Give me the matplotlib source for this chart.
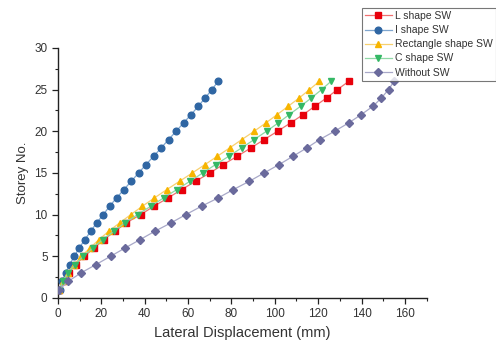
import matplotlib
matplotlib.use("Agg")
import matplotlib.pyplot as plt
from matplotlib.ticker import MultipleLocator

plt.rcParams['font.family'] = ['Liberation Sans', 'DejaVu Sans']

storeys = list(range(1, 27))
l_shape = [0.6, 2.3, 4.9, 8.1, 12.1, 16.8, 21.1, 26.4, 31.4, 38.2, 44.2, 50.8, 57.0,
           63.5, 70.1, 76.2, 82.7, 89.0, 95.1, 101.3, 107.3, 113.1, 118.5, 123.9, 128.9, 134.2]
i_shape = [0.8, 2.0, 3.5, 5.4, 7.5, 9.8, 12.4, 15.1, 17.8, 20.9, 23.8, 27.0, 30.4,
           33.8, 37.2, 40.6, 44.1, 47.6, 51.0, 54.5, 57.9, 61.4, 64.7, 67.9, 71.0, 73.9]
rect_shape = [0.6, 2.2, 4.5, 7.3, 10.8, 14.8, 18.9, 23.4, 28.4, 33.6, 38.9, 44.5, 50.2,
              56.1, 62.0, 67.8, 73.5, 79.2, 84.8, 90.5, 95.9, 101.1, 106.2, 111.3, 116.0, 120.6]
c_shape = [0.6, 2.2, 4.7, 7.8, 11.7, 16.0, 20.6, 25.8, 30.8, 36.7, 42.8, 48.7, 54.8,
           60.9, 66.8, 72.7, 78.8, 84.7, 90.5, 96.2, 101.6, 106.7, 111.9, 116.9, 121.6, 126.0]
without_sw = [0.6, 4.8, 10.6, 17.5, 24.3, 31.0, 37.9, 44.7, 52.1, 59.0, 66.2, 73.9, 80.9,
              88.3, 95.1, 102.0, 108.4, 114.8, 120.7, 127.6, 134.1, 139.9, 145.3, 149.2, 152.5, 155.0]

series = [
    ("L shape SW", l_shape, 's', '#e8000b', '#f07070'),
    ("I shape SW", i_shape, 'o', '#2f66a3', '#7fa6cf'),
    ("Rectangle shape SW", rect_shape, '^', '#f7b500', '#f7d070'),
    ("C shape SW", c_shape, 'v', '#34b865', '#8fd8a6'),
    ("Without SW", without_sw, 'D', '#6a6a9c', '#a8a8c8'),
]

fig = plt.figure(figsize=(4.96, 3.42), dpi=100)
ax = fig.add_axes([0.117, 0.129, 0.743, 0.731])

handles = []
for name, xs, mk, mc, lc in series:
    ms = 4.8 if mk != 'D' else 4.2
    h, = ax.plot(xs, storeys, color=lc, lw=0.9, marker=mk, markersize=ms,
                 markerfacecolor=mc, markeredgecolor=mc, label=name, zorder=3)
    handles.append(h)

ax.set_xlim(0, 170)
ax.set_ylim(0, 30)
ax.xaxis.set_major_locator(MultipleLocator(20))
ax.xaxis.set_minor_locator(MultipleLocator(10))
ax.yaxis.set_major_locator(MultipleLocator(5))
ax.yaxis.set_minor_locator(MultipleLocator(2.5))
for s in ['top', 'right']:
    ax.spines[s].set_visible(False)
for s in ['left', 'bottom']:
    ax.spines[s].set_linewidth(1.0)
    ax.spines[s].set_color('#222222')
ax.tick_params(which='major', direction='out', length=4, width=0.9,
               labelsize=8.5, labelcolor='#333333', color='#222222')
ax.tick_params(which='minor', direction='out', length=2.5, width=0.8, color='#222222')

ax.set_xlabel('Lateral Displacement (mm)', fontsize=10.5, color='#333333', labelpad=4)
ax.set_ylabel('Storey No.', fontsize=9.5, color='#333333', labelpad=4)

leg = fig.legend(handles=handles, loc='upper left', bbox_to_anchor=(0.729, 0.977),
                 fontsize=7.5, frameon=True, fancybox=False, edgecolor='#555555',
                 handlelength=2.6, handletextpad=0.3, borderpad=0.3,
                 labelspacing=0.4, borderaxespad=0)
leg.get_frame().set_linewidth(0.8)
for t in leg.get_texts():
    t.set_color('#333333')

fig.savefig('out.png', dpi=100)
